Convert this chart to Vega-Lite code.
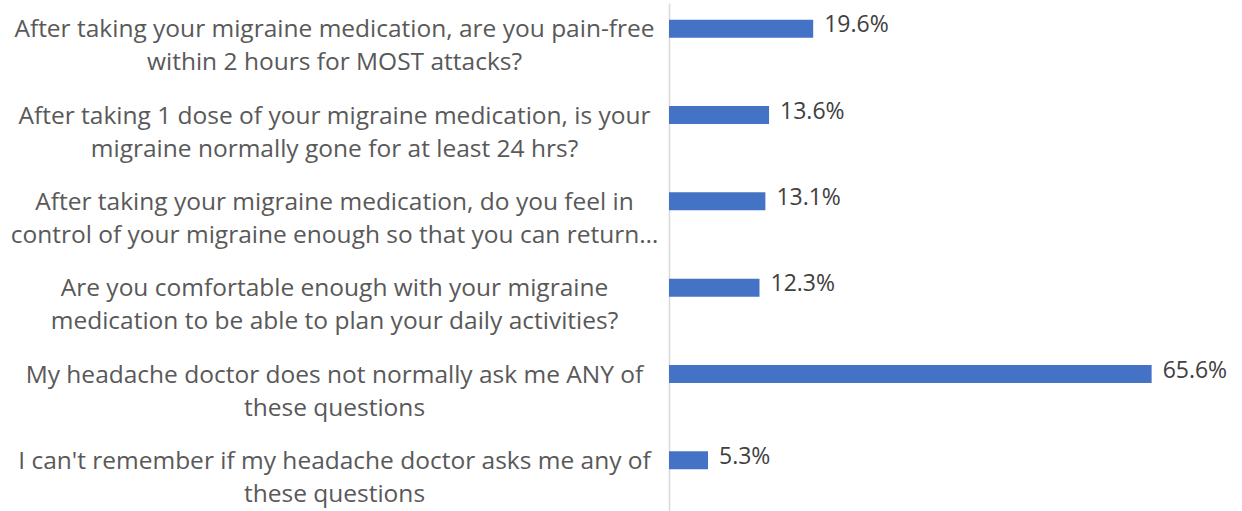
{
  "$schema": "https://vega.github.io/schema/vega-lite/v6.json",
  "width": 515,
  "height": 508,
  "autosize": {"type": "none"},
  "padding": {"left": 669, "top": 3, "right": 58, "bottom": 0},
  "background": "white",
  "config": {"view": {"stroke": null}, "font": "Open Sans"},
  "data": {
    "values": [
      {"question": "After taking your migraine medication, are you pain-free|within 2 hours for MOST attacks?", "value": 19.6},
      {"question": "After taking 1 dose of your migraine medication, is your|migraine normally gone for at least 24 hrs?", "value": 13.6},
      {"question": "After taking your migraine medication, do you feel in|control of your migraine enough so that you can return…", "value": 13.1},
      {"question": "Are you comfortable enough with your migraine|medication to be able to plan your daily activities?", "value": 12.3},
      {"question": "My headache doctor does not normally ask me ANY of|these questions", "value": 65.6},
      {"question": "I can't remember if my headache doctor asks me any of|these questions", "value": 5.3}
    ]
  },
  "encoding": {
    "y": {
      "field": "question",
      "type": "nominal",
      "sort": null,
      "scale": {"range": [0, 518], "paddingInner": 0, "paddingOuter": 0},
      "axis": {
        "title": null,
        "ticks": false,
        "tickSize": 0,
        "domainColor": "#D9D9D9",
        "domainWidth": 1.5,
        "labelExpr": "split(datum.value, '|')",
        "labelAlign": "center",
        "labelBaseline": "middle",
        "labelOffset": -16,
        "labelPadding": 335,
        "labelLimit": 0,
        "labelFont": "Open Sans",
        "labelFontSize": 24.5,
        "labelLineHeight": 33,
        "labelColor": "#595959"
      }
    },
    "x": {
      "field": "value",
      "type": "quantitative",
      "scale": {"domain": [0, 70], "nice": false},
      "axis": null
    }
  },
  "layer": [
    {"mark": {"type": "bar", "color": "#4472C4", "height": 18, "yOffset": -17.5}},
    {
      "mark": {
        "type": "text",
        "align": "left",
        "baseline": "middle",
        "dx": 11,
        "yOffset": -21,
        "fontSize": 23,
        "font": "Open Sans",
        "color": "#404040",
        "text": {"expr": "format(datum.value, '.1f') + '%'"}
      }
    }
  ]
}
